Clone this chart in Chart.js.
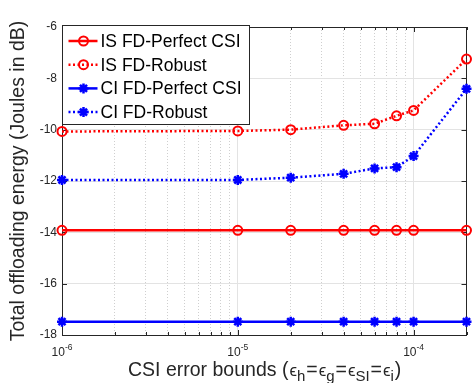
<!DOCTYPE html>
<html lang="en">
<head>
    <meta charset="UTF-8">
    <title>Total offloading energy vs CSI error bounds</title>
    <script src="https://cdn.jsdelivr.net/npm/chart.js"></script>
    <style>
        body {
            margin: 0;
            padding: 0;
            background-color: #ffffff;
        }
        canvas {
            display: block;
        }
    </style>
</head>
<body>
    <canvas id="grafica" width="474" height="383"></canvas>

    <script>
        // datos
        const errorBounds = [1e-6, 1e-5, 2e-5, 4e-5, 6e-5, 8e-5, 1e-4, 2e-4];
        const isPerfect = [-13.92, -13.92, -13.92, -13.92, -13.92, -13.92, -13.92, -13.92];
        const isRobust = [-10.07, -10.05, -10.0, -9.83, -9.77, -9.46, -9.25, -7.25];
        const ciPerfect = [-17.48, -17.48, -17.48, -17.48, -17.48, -17.48, -17.48, -17.48];
        const ciRobust = [-11.96, -11.96, -11.87, -11.72, -11.51, -11.46, -11.03, -8.41];

        const seriesNames = ['IS FD-Perfect CSI', 'IS FD-Robust', 'CI FD-Perfect CSI', 'CI FD-Robust'];
        const xDecades = [1e-6, 1e-5, 1e-4];
        const xExponents = ['-6', '-5', '-4'];
        const yMin = -18, yMax = -6, yStep = 2;

        const FONT = '"Liberation Sans", Arial, Helvetica, sans-serif';
        const AXIS_COLOR = '#262626';
        const RED = '#ff0000';
        const BLUE = '#0000ff';

        function puntos(values) {
            return errorBounds.map((x, i) => ({ x: x, y: values[i] }));
        }

        function isDecade(v) {
            const l = Math.log10(v);
            return Math.abs(l - Math.round(l)) < 1e-9;
        }

        function serie(label, values, color, dotted, marker) {
            return {
                label: label,
                data: puntos(values),
                borderColor: color,
                backgroundColor: color,
                borderWidth: 2.5,
                borderDash: dotted ? [2, 2.5] : [],
                pointStyle: marker,
                pointRadius: marker === 'circle' ? 4.5 : 5,
                pointBorderWidth: marker === 'circle' ? 2 : 2.5,
                pointBorderColor: color,
                pointBackgroundColor: marker === 'circle' ? 'rgba(255,255,255,0)' : color,
                tension: 0,
                clip: false
            };
        }

        // caja, marcas, etiquetas del eje x y leyenda
        const extras = {
            id: 'extras',
            beforeDatasetsDraw(chart) {
                const { ctx, chartArea: a, scales } = chart;
                ctx.save();
                ctx.strokeStyle = AXIS_COLOR;
                ctx.lineWidth = 1;
                ctx.setLineDash([]);
                ctx.beginPath();
                // marcas del eje x (arriba y abajo)
                scales.x.ticks.forEach(t => {
                    const px = Math.round(scales.x.getPixelForValue(t.value)) + 0.5;
                    const len = isDecade(t.value) ? 5 : 3;
                    ctx.moveTo(px, a.bottom); ctx.lineTo(px, a.bottom - len);
                    ctx.moveTo(px, a.top); ctx.lineTo(px, a.top + len);
                });
                scales.y.ticks.forEach(t => {
                    const py = Math.round(scales.y.getPixelForValue(t.value)) + 0.5;
                    ctx.moveTo(a.left, py); ctx.lineTo(a.left + 5, py);
                    ctx.moveTo(a.right, py); ctx.lineTo(a.right - 5, py);
                });
                ctx.stroke();
                ctx.strokeRect(Math.round(a.left) + 0.5, Math.round(a.top) + 0.5,
                    Math.round(a.right - a.left) - 1, Math.round(a.bottom - a.top));
                ctx.restore();
            },
            afterDatasetsDraw(chart) {
                const { ctx, chartArea: a, scales } = chart;
                ctx.save();
                ctx.fillStyle = AXIS_COLOR;
                ctx.textBaseline = 'alphabetic';

                // etiquetas 10^k
                xDecades.forEach((v, i) => {
                    const px = scales.x.getPixelForValue(v);
                    ctx.font = '12px ' + FONT;
                    const wb = ctx.measureText('10').width;
                    ctx.font = '8.5px ' + FONT;
                    const we = ctx.measureText(xExponents[i]).width;
                    const x0 = px - (wb + we) / 2;
                    ctx.font = '12px ' + FONT;
                    ctx.textAlign = 'left';
                    ctx.fillText('10', x0, 356);
                    ctx.font = '8.5px ' + FONT;
                    ctx.fillText(xExponents[i], x0 + wb, 350);
                });

                // titulo del eje x con subindices
                const parts = [
                    ['CSI error bounds ', 19.5, 0, 0], ['(', 19.5, 0, 1],
                    ['\u03f5', 17, 0, 0], ['h', 15, 5, 1], ['=', 19.5, 0, 1],
                    ['\u03f5', 17, 0, 0], ['g', 15, 5, 1], ['=', 19.5, 0, 1],
                    ['\u03f5', 17, 0, 0], ['SI', 15, 5, 1], ['=', 19.5, 0, 1],
                    ['\u03f5', 17, 0, 0], ['i', 15, 5, 1], [')', 19.5, 0, 0]
                ];
                let x = 128;
                parts.forEach(p => {
                    ctx.font = p[1] + 'px ' + FONT;
                    ctx.fillText(p[0], x, 376 + p[2]);
                    x += ctx.measureText(p[0]).width + p[3];
                });

                // leyenda
                const lx = Math.round(a.left) + 0.5, ly = Math.round(a.top) - 1.5;
                const lw = 187, lh = 99;
                ctx.fillStyle = '#ffffff';
                ctx.fillRect(lx, ly, lw, lh);
                ctx.strokeStyle = AXIS_COLOR;
                ctx.lineWidth = 1;
                ctx.strokeRect(lx, ly, lw, lh);

                chart.data.datasets.forEach((ds, i) => {
                    const cy = ly + 15.5 + i * 23.7;
                    ctx.save();
                    ctx.strokeStyle = ds.borderColor;
                    ctx.lineWidth = ds.borderWidth;
                    ctx.setLineDash(ds.borderDash);
                    ctx.beginPath();
                    ctx.moveTo(lx + 6, cy);
                    ctx.lineTo(lx + 35, cy);
                    ctx.stroke();
                    ctx.setLineDash([]);
                    ctx.strokeStyle = ds.pointBorderColor;
                    ctx.fillStyle = ds.pointBackgroundColor;
                    ctx.lineWidth = ds.pointBorderWidth;
                    Chart.helpers.drawPoint(ctx, {
                        pointStyle: ds.pointStyle,
                        radius: ds.pointRadius,
                        borderWidth: ds.pointBorderWidth,
                        rotation: 0
                    }, lx + 21, cy);
                    ctx.restore();
                    ctx.fillStyle = '#000000';
                    ctx.font = '17.5px ' + FONT;
                    ctx.textAlign = 'left';
                    ctx.textBaseline = 'middle';
                    ctx.fillText(ds.label, lx + 38, cy + 1);
                });
                ctx.restore();
            }
        };

        const ctx = document.getElementById('grafica').getContext('2d');

        window.miGrafico = new Chart(ctx, {
            type: 'line',
            data: {
                datasets: [
                    serie(seriesNames[0], isPerfect, RED, false, 'circle'),
                    serie(seriesNames[1], isRobust, RED, true, 'circle'),
                    serie(seriesNames[2], ciPerfect, BLUE, false, 'star'),
                    serie(seriesNames[3], ciRobust, BLUE, true, 'star')
                ]
            },
            options: {
                responsive: false,
                animation: false,
                devicePixelRatio: 1,
                layout: {
                    padding: { top: 27, right: 1, bottom: 0, left: 0 }
                },
                plugins: {
                    legend: { display: false },
                    tooltip: { enabled: false }
                },
                scales: {
                    x: {
                        type: 'logarithmic',
                        min: 1e-6,
                        max: 2e-4,
                        afterBuildTicks: scale => {
                            const t = [];
                            for (let e = -6; e <= -4; e++) {
                                for (let m = 1; m <= 9; m++) {
                                    const v = m * Math.pow(10, e);
                                    if (v <= 2.0001e-4) t.push({ value: v });
                                }
                            }
                            scale.ticks = t;
                        },
                        afterFit: scale => { scale.height = 48; },
                        ticks: { display: false },
                        border: {
                            display: false,
                            dash: c => (c.tick && isDecade(c.tick.value)) ? [] : [1, 2]
                        },
                        grid: {
                            drawTicks: false,
                            lineWidth: 1,
                            color: c => (c.tick && isDecade(c.tick.value)) ? '#e3e3e3' : '#cfcfcf'
                        }
                    },
                    y: {
                        min: yMin,
                        max: yMax,
                        afterFit: scale => { scale.width = 62; },
                        ticks: {
                            stepSize: yStep,
                            padding: 5,
                            color: AXIS_COLOR,
                            font: { family: FONT, size: 12 }
                        },
                        border: { display: false },
                        grid: {
                            drawTicks: false,
                            color: '#e3e3e3',
                            lineWidth: 1
                        },
                        title: {
                            display: true,
                            text: 'Total offloading energy (Joules in dB)',
                            color: AXIS_COLOR,
                            font: { family: FONT, size: 19.5 },
                            padding: { top: 7, bottom: 0 }
                        }
                    }
                }
            },
            plugins: [extras]
        });
    </script>
</body>
</html>
